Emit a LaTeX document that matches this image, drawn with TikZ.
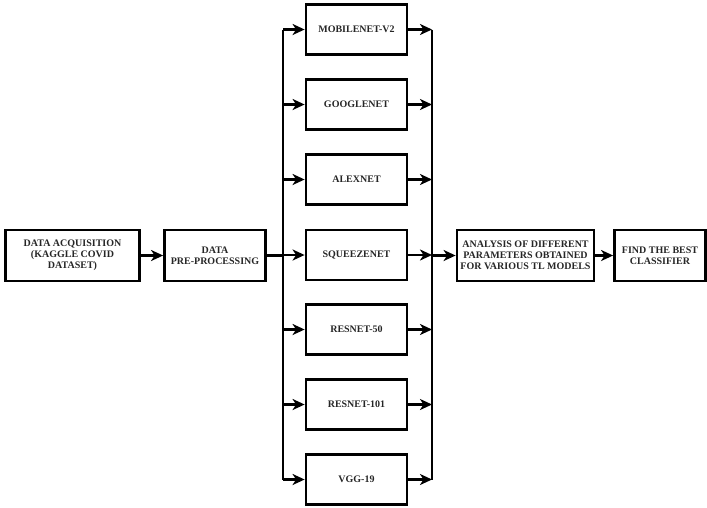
\documentclass[tikz,border=0pt]{standalone}
\usepackage{fontspec}
\setmainfont{Liberation Serif}
\usetikzlibrary{arrows.meta}
\begin{document}
\begin{tikzpicture}[x=1pt,y=-1pt,
  box/.style={draw=black, line width=2.8pt, inner sep=1pt, align=center,
    font=\fontsize{10}{11}\selectfont\bfseries, text=black!85},
  model/.style={box, minimum width=101pt, minimum height=50pt},
  conn/.style={line width=2.8pt},
  arr/.style={conn, -{Stealth[length=12pt,width=11pt,inset=3.5pt]}}]
\useasboundingbox (0,0) rectangle (707,507);
\node[box, minimum width=134pt, minimum height=51pt] (acq) at (72.5,255.5) {DATA ACQUISITION\\(KAGGLE COVID\\DATASET)};
\node[box, minimum width=101pt, minimum height=51pt] (pre) at (215,255.5) {DATA\\PRE-PROCESSING};
\node[model] (m1) at (356.5,29.5) {MOBILENET-V2};
\node[model] (m2) at (356.5,104.5) {GOOGLENET};
\node[model] (m3) at (356.5,179.5) {ALEXNET};
\node[model] (m4) at (356.5,255) {SQUEEZENET};
\node[model] (m5) at (356.5,329.5) {RESNET-50};
\node[model] (m6) at (356.5,404.5) {RESNET-101};
\node[model] (m7) at (356.5,479.5) {VGG-19};
\node[box, minimum width=137pt, minimum height=51pt] (ana) at (525.5,255.5) {ANALYSIS OF DIFFERENT\\PARAMETERS OBTAINED\\FOR VARIOUS TL MODELS};
\node[box, minimum width=91pt, minimum height=51pt] (best) at (660,255.5) {FIND THE BEST\\CLASSIFIER};
\coordinate (lt) at (283,29.5);
\coordinate (lb) at (283,479.5);
\coordinate (lm) at (283,255.5);
\coordinate (rt) at (432,29.5);
\coordinate (rb) at (432,479.5);
\coordinate (rm) at (432,255.5);
\draw[arr] (acq) -- (pre);
\draw[conn] (pre.east) -- (lm);
\draw[conn] (lt) -- (lb);
\draw[conn] (rt) -- (rb);
\foreach \m in {m1,m2,m3,m4,m5,m6,m7}{
  \draw[arr] (lt |- \m.west) -- (\m.west);
  \draw[arr] (\m.east) -- (rt |- \m.east);
}
\draw[arr] (rm) -- (ana.west |- rm);
\draw[arr] (ana) -- (best);
\end{tikzpicture}
\end{document}
